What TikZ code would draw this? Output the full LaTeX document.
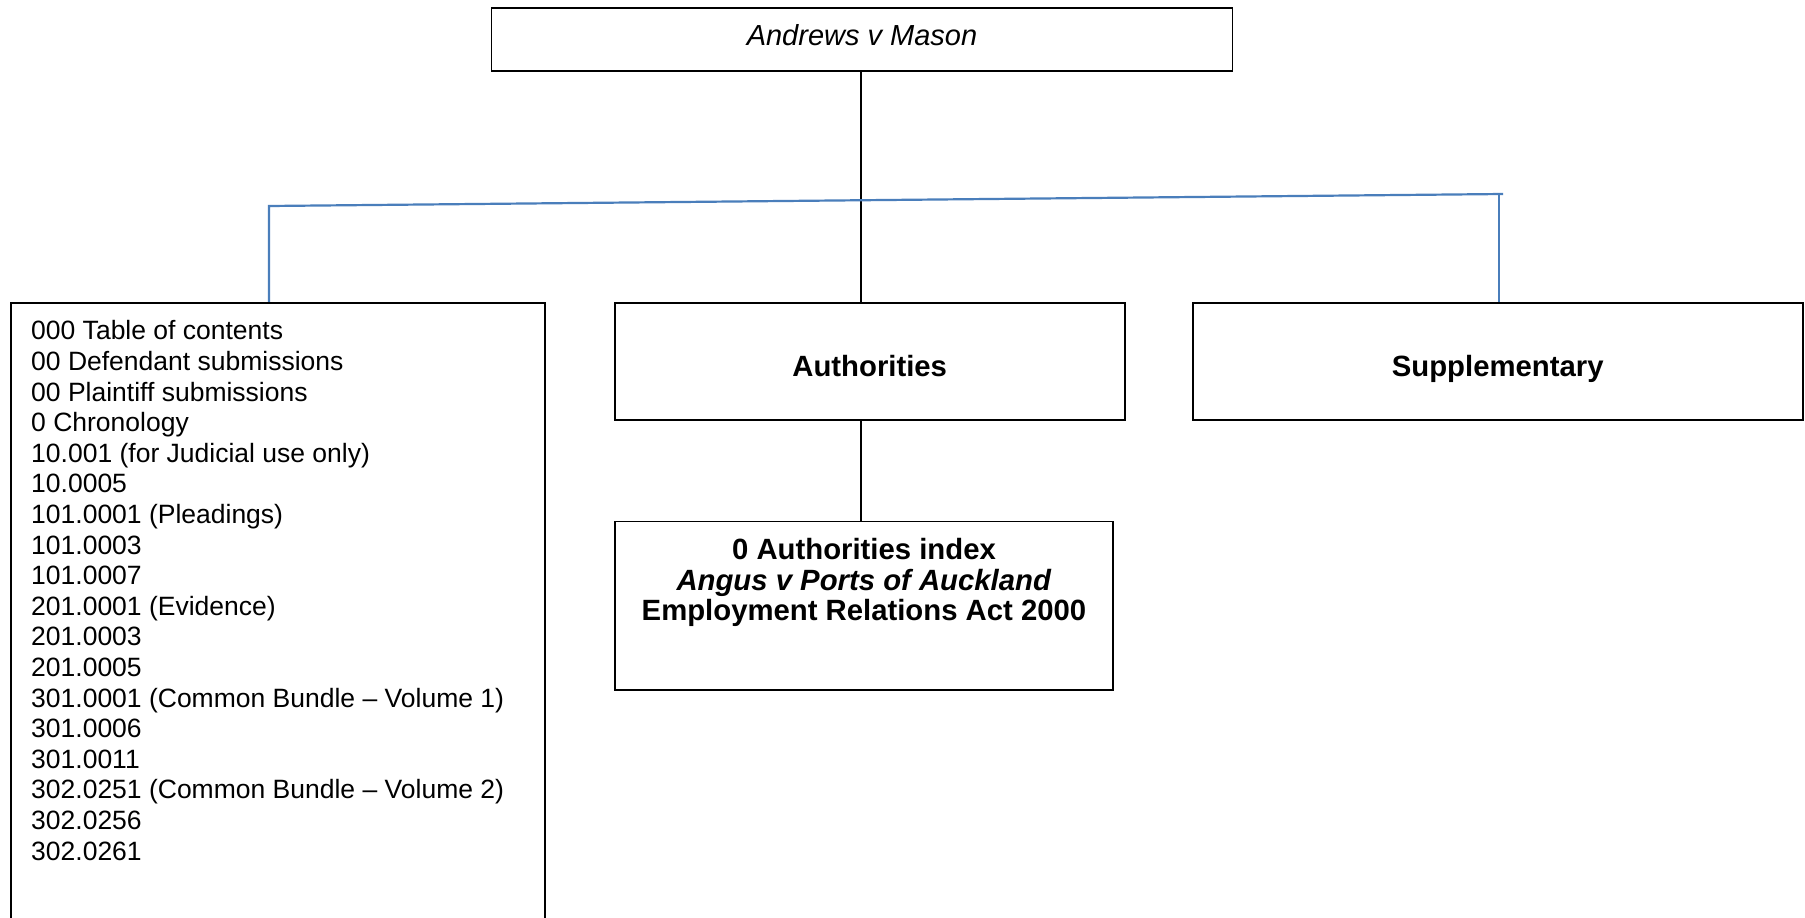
\documentclass[tikz,border=0pt]{standalone}
\usepackage{fontspec}
\setmainfont{Liberation Sans}
\definecolor{linkblue}{HTML}{4A7EBB}
\begin{document}
\begin{tikzpicture}[x=1pt,y=-1pt,
  boxstyle/.style={draw=black, line width=1.8pt, rectangle, inner sep=0pt, fill=none},
  blueconn/.style={draw=linkblue, line width=2.2pt},
  blackconn/.style={draw=black, line width=1.7pt},
  bigtext/.style={font={\fontsize{29.3}{30.5}\selectfont\bfseries}, inner sep=0pt, align=center},
  onelinetext/.style={bigtext, text height=21.5pt, text depth=0pt},
  listtext/.style={font={\fontsize{26.5}{30.6}\selectfont}, inner sep=0pt, align=left}]
\clip (0,0) rectangle (1805,918);
\useasboundingbox (0,0) rectangle (1805,918);
\fill[white] (0,0) rectangle (1805,918);

% boxes
\node[boxstyle, minimum width=741pt, minimum height=63pt] (top) at (862,39.7) {};
\node[boxstyle, minimum width=534pt, minimum height=640pt] (toc) at (278,622.8) {};
\node[boxstyle, minimum width=510pt, minimum height=117.4pt] (auth) at (869.7,361.5) {};
\node[boxstyle, minimum width=610pt, minimum height=117.4pt] (supp) at (1497.7,361.5) {};
\node[boxstyle, minimum width=498.5pt, minimum height=168.5pt] (idx) at (864,605.7) {};

% texts
\node[font={\fontsize{29}{30}\selectfont\itshape}, inner sep=0pt] (toptext) at ([yshift=4.5pt]top.center) {Andrews v Mason};
\node[onelinetext] (authtext) at ([yshift=-4.5pt]auth.center) {Authorities};
\node[onelinetext] (supptext) at ([yshift=-4.5pt]supp.center) {Supplementary};
\node[bigtext] (idxtext) at (864,582.5) {0 Authorities index\\ \textit{Angus v Ports of Auckland}\\ Employment Relations Act 2000};
\node[listtext, anchor=north west] (toctext) at (31,320.5) {000 Table of contents\\
00 Defendant submissions\\
00 Plaintiff submissions\\
0 Chronology\\
10.001 (for Judicial use only)\\
10.0005\\
101.0001 (Pleadings)\\
101.0003\\
101.0007\\
201.0001 (Evidence)\\
201.0003\\
201.0005\\
301.0001 (Common Bundle – Volume 1)\\
301.0006\\
301.0011\\
302.0251 (Common Bundle – Volume 2)\\
302.0256\\
302.0261};

% connectors
\coordinate (bl) at (269,206);
\coordinate (br) at (1503,194);
\coordinate (brv) at (1499.3,194);
\coordinate (mid) at (861,71);
\draw[blackconn] (top.south -| mid) -- (auth.north -| mid);
\draw[blackconn] (auth.south -| mid) -- (idx.north -| mid);
\draw[blueconn] (toc.north -| bl) -- (bl) -- (br);
\draw[blueconn] (supp.north -| brv) -- (brv);
\end{tikzpicture}
\end{document}
